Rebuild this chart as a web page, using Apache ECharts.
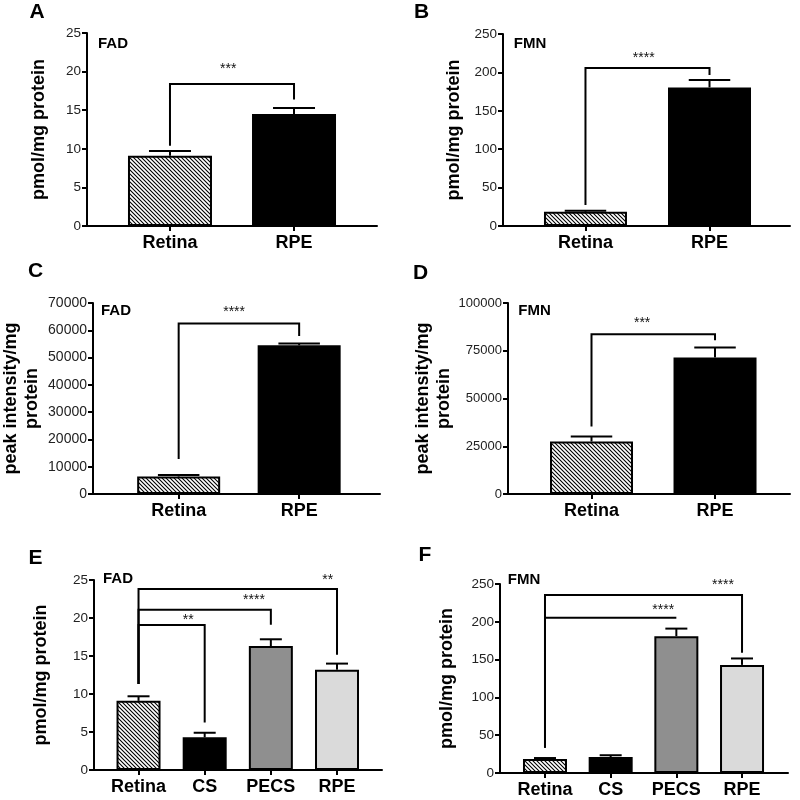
<!DOCTYPE html>
<html><head><meta charset="utf-8">
<script src="https://cdn.jsdelivr.net/npm/echarts@6/dist/echarts.min.js"></script>
<style>html,body{margin:0;padding:0;background:#fff}#c{width:800px;height:800px}</style>
</head><body><div id="c"></div>
<script>
// ---------- data ----------
const catsTwo = ['Retina', 'RPE'];
const catsFour = ['Retina', 'CS', 'PECS', 'RPE'];

const aMean = [9.1, 14.5];
const aErr  = [9.7, 15.3];
const bMean = [18.5, 180.5];
const bErr  = [19.8, 190];
const cMean = [6400, 54500];
const cErr  = [7000, 55200];
const dMean = [27500, 71500];
const dErr  = [30100, 76700];
const eMean = [9.1, 4.3, 16.3, 13.2];
const eErr  = [9.7, 4.9, 17.2, 14.0];
const fMean = [18.5, 21, 181, 143];
const fErr  = [19.8, 23.5, 191, 151.5];

const aTicks = [0, 5, 10, 15, 20, 25];
const bTicks = [0, 50, 100, 150, 200, 250];
const cTicks = [0, 10000, 20000, 30000, 40000, 50000, 60000, 70000];
const dTicks = [0, 25000, 50000, 75000, 100000];
const eTicks = [0, 5, 10, 15, 20, 25];
const fTicks = [0, 50, 100, 150, 200, 250];

// significance brackets: [fromIdx, toIdx, level, leftLegBottom, rightLegBottom, starX, starY]
const aBrackets = [[0, 1, 18.4, 10.4, 16.4, 0.47, 20.3]];
const aStars = ['***'];
const bBrackets = [[0, 1, 205.7, 27.3, 196.6, 0.47, 219]];
const bStars = ['****'];
const cBrackets = [[0, 1, 62480, 12790, 57860, 0.46, 66500]];
const cStars = ['****'];
const dBrackets = [[0, 1, 83650, 35300, 80520, 0.41, 89300]];
const dStars = ['***'];
const eBrackets = [
  [0, 1, 19.07, 11.3, 6.24, 0.75, 19.7],
  [0, 2, 21.1, 11.3, 19.1, 1.745, 22.3],
  [0, 3, 23.8, 11.3, 15.16, 2.86, 25.0]
];
const eStars = ['**', '****', '**'];
const fBrackets = [
  [0, 2, 205.4, 33.4, 205.4, 1.8, 216],
  [0, 3, 235.3, 33.4, 159.2, 2.71, 248]
];
const fStars = ['****', '****'];

// ---------- styles ----------
function hatch() {
  const cv = document.createElement('canvas');
  cv.width = 4; cv.height = 4;
  const ctx = cv.getContext('2d');
  ctx.fillStyle = '#fff'; ctx.fillRect(0, 0, 4, 4);
  ctx.strokeStyle = '#000'; ctx.lineWidth = 1.1;
  ctx.beginPath();
  ctx.moveTo(-1, -1); ctx.lineTo(5, 5);
  ctx.moveTo(-1, 3); ctx.lineTo(1, 5);
  ctx.moveTo(3, -1); ctx.lineTo(5, 1);
  ctx.stroke();
  return { image: cv, repeat: 'repeat' };
}
const HATCH = hatch();
const fillsTwo = [HATCH, '#000'];
const fillsFour = [HATCH, '#000', '#8f8f8f', '#dadada'];

const FONT = 'Liberation Sans, Arial, Helvetica, sans-serif';

const panels = [
  { grid: { left: 87, top: 33, width: 290, height: 193 }, xr: [-0.669, 1.669], cats: catsTwo, mean: aMean, err: aErr, ticks: aTicks, br: aBrackets, st: aStars, fills: fillsTwo, bw: 84, name: 'pmol/mg protein', gap: 37, lfs: 13.5 },
  { grid: { left: 503, top: 34, width: 287, height: 192 }, xr: [-0.665, 1.649], cats: catsTwo, mean: bMean, err: bErr, ticks: bTicks, br: bBrackets, st: bStars, fills: fillsTwo, bw: 83, name: 'pmol/mg protein', gap: 38, lfs: 13.5 },
  { grid: { left: 87, top: 303, width: 293, height: 191 }, xr: [-0.711, 1.671], cats: catsTwo, mean: cMean, err: cErr, ticks: cTicks, br: cBrackets, st: cStars, fills: fillsTwo, bw: 83, name: 'peak intensity/mg\nprotein', gap: 50, lfs: 14 },
  { grid: { left: 508, top: 303, width: 282, height: 191 }, xr: [-0.676, 1.607], cats: catsTwo, mean: dMean, err: dErr, ticks: dTicks, br: dBrackets, st: dStars, fills: fillsTwo, bw: 83, name: 'peak intensity/mg\nprotein', gap: 52, lfs: 13 },
  { grid: { left: 94, top: 580, width: 288, height: 190 }, xr: [-0.673, 3.68], cats: catsFour, mean: eMean, err: eErr, ticks: eTicks, br: eBrackets, st: eStars, fills: fillsFour, bw: 44, name: 'pmol/mg protein', gap: 42, lfs: 13.5 },
  { grid: { left: 500, top: 584, width: 288, height: 189 }, xr: [-0.685, 3.70], cats: catsFour, mean: fMean, err: fErr, ticks: fTicks, br: fBrackets, st: fStars, fills: fillsFour, bw: 44, name: 'pmol/mg protein', gap: 42, lfs: 13.5 }
];

const grids = [], xAxes = [], yAxes = [], series = [];
panels.forEach((p, gi) => {
  grids.push(Object.assign({ containLabel: false }, p.grid));
  const idx = p.cats.map((c, i) => i);
  xAxes.push({
    type: 'value', gridIndex: gi, min: p.xr[0], max: p.xr[1],
    axisLine: { show: true, onZero: false, lineStyle: { color: '#000', width: 2 } },
    axisTick: { show: true, length: 5, customValues: idx, lineStyle: { color: '#000', width: 2 } },
    axisLabel: { customValues: idx, formatter: v => p.cats[Math.round(v)], fontFamily: FONT, fontWeight: 'bold', fontSize: 18, color: '#000', margin: 8 },
    splitLine: { show: false }
  });
  const t = p.ticks;
  yAxes.push({
    type: 'value', gridIndex: gi, min: t[0], max: t[t.length - 1], interval: t[1] - t[0],
    axisLine: { show: true, onZero: false, lineStyle: { color: '#000', width: 2 } },
    axisTick: { show: true, length: 5, lineStyle: { color: '#000', width: 2 } },
    axisLabel: { color: '#222', fontSize: p.lfs, fontFamily: FONT, margin: 6, formatter: v => String(v) },
    splitLine: { show: false },
    name: p.name, nameLocation: 'middle', nameGap: p.gap, nameRotate: 90,
    nameTextStyle: { fontFamily: FONT, fontWeight: 'bold', fontSize: 18, color: '#000', lineHeight: 21 }
  });
  series.push({
    type: 'bar', xAxisIndex: gi, yAxisIndex: gi, barWidth: p.bw, z: 2,
    data: p.mean.map((m, i) => ({ value: [i, m], itemStyle: { color: p.fills[i] } })),
    itemStyle: { borderColor: '#000', borderWidth: 2 },
    silent: true
  });
  const capHalf = p.bw / 4;
  series.push({
    type: 'custom', xAxisIndex: gi, yAxisIndex: gi, z: 3, silent: true,
    data: p.mean.map((m, i) => [i, m, p.err[i]]),
    encode: { x: 0, y: [1, 2] },
    renderItem: (params, api) => {
      const x = api.value(0);
      const p0 = api.coord([x, api.value(1)]);
      const p1 = api.coord([x, api.value(2)]);
      return { type: 'group', children: [
        { type: 'line', shape: { x1: p0[0], y1: p0[1], x2: p1[0], y2: p1[1] }, style: { stroke: '#000', lineWidth: 2 } },
        { type: 'line', shape: { x1: p1[0] - capHalf, y1: p1[1], x2: p1[0] + capHalf, y2: p1[1] }, style: { stroke: '#000', lineWidth: 2 } }
      ] };
    }
  });
  series.push({
    type: 'custom', xAxisIndex: gi, yAxisIndex: gi, z: 4, silent: true, clip: false,
    data: p.br,
    encode: { x: [0, 1], y: [2, 3] },
    renderItem: (params, api) => {
      const x1 = api.value(0), x2 = api.value(1), lv = api.value(2);
      const pa = api.coord([x1, api.value(3)]), pb = api.coord([x1, lv]);
      const pc = api.coord([x2, lv]), pd = api.coord([x2, api.value(4)]);
      const s = api.coord([api.value(5), api.value(6)]);
      return { type: 'group', children: [
        { type: 'polyline', shape: { points: [pa, pb, pc, pd] }, style: { stroke: '#000', lineWidth: 2, fill: 'none' } },
        { type: 'text', x: s[0], y: s[1], style: { text: p.st[params.dataIndex], font: '14px ' + FONT, fill: '#111', align: 'center', verticalAlign: 'middle' } }
      ] };
    }
  });
});

function label(text, x, y, size) {
  return { type: 'text', x, y, style: { text, font: 'bold ' + size + 'px ' + FONT, fill: '#000', align: 'center', verticalAlign: 'middle' } };
}
const graphics = [
  label('A', 37, 12, 21), label('B', 421.5, 12, 21), label('C', 35.5, 271.5, 21),
  label('D', 420.5, 273.5, 21), label('E', 35.5, 558, 21), label('F', 425, 555.5, 21),
  label('FAD', 113, 43.5, 15), label('FMN', 530, 43.5, 15), label('FAD', 116, 310.5, 15),
  label('FMN', 534.5, 310.5, 15), label('FAD', 118, 578.5, 15), label('FMN', 524, 579.5, 15)
];

const chart = echarts.init(document.getElementById('c'), null, { renderer: 'canvas' });
chart.setOption({
  animation: false,
  backgroundColor: '#fff',
  grid: grids, xAxis: xAxes, yAxis: yAxes, series,
  graphic: graphics
});
</script></body></html>
